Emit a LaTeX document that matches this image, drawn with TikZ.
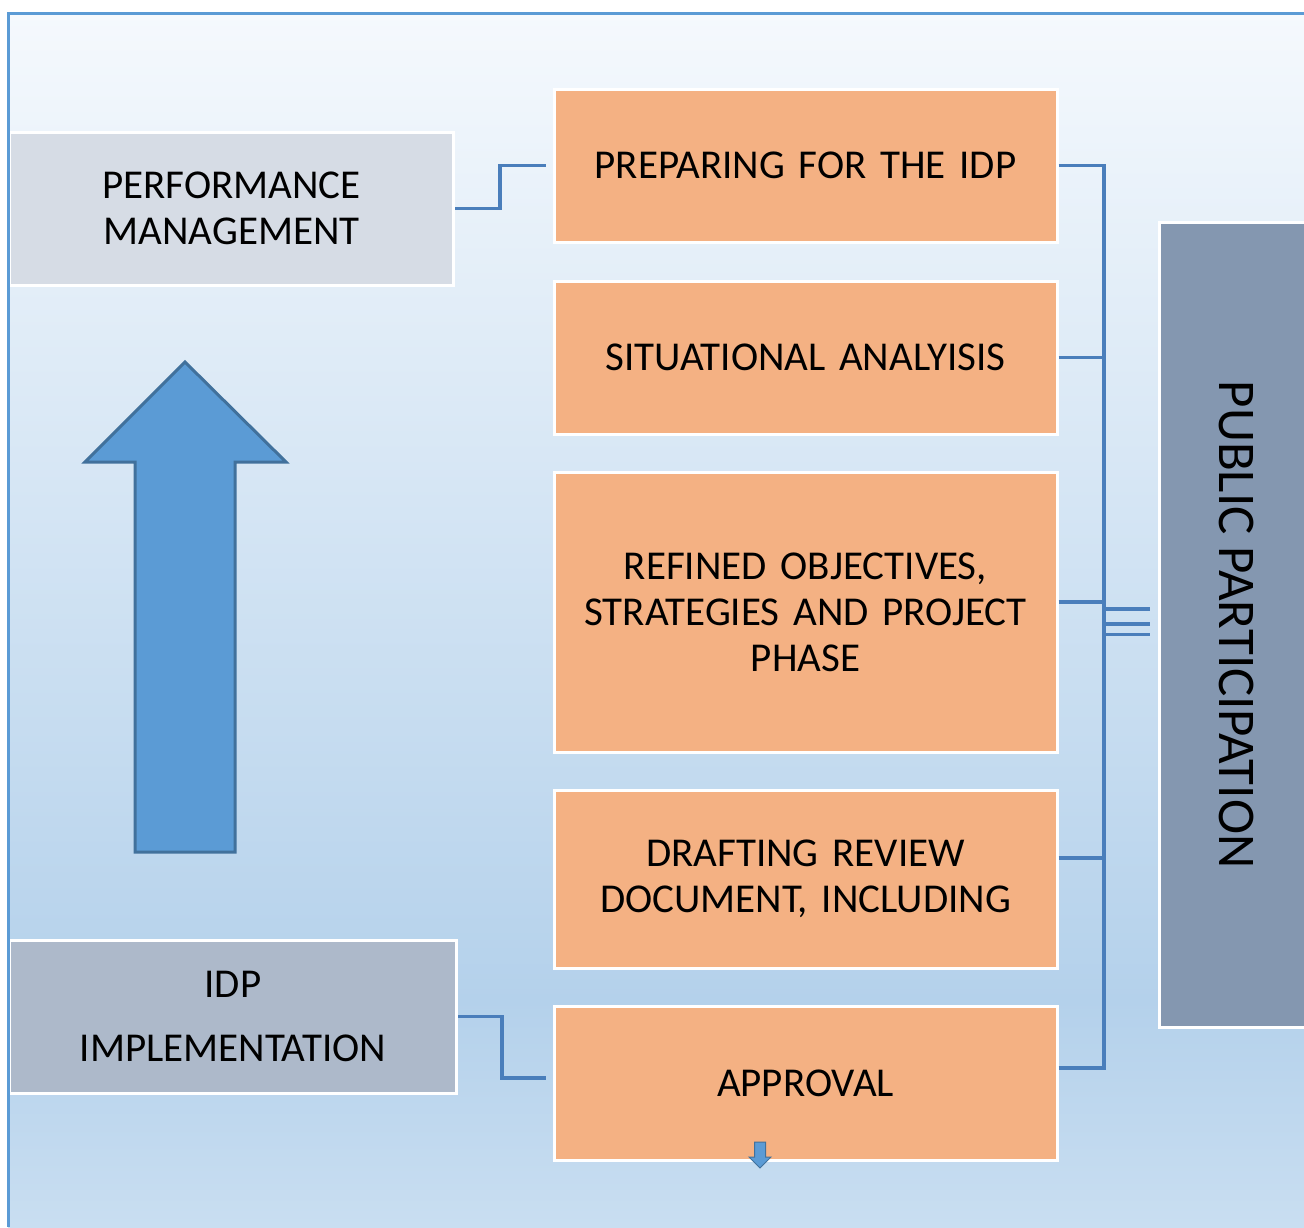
\documentclass[tikz,border=0pt]{standalone}
\usepackage{fontspec}
\setmainfont{Carlito}
\definecolor{bgtop}{HTML}{F5F9FD}
\definecolor{bgmid}{HTML}{B4D1EB}
\definecolor{bgbot}{HTML}{C9DEF1}
\definecolor{framec}{HTML}{5B9BD5}
\definecolor{orangec}{HTML}{F4B183}
\definecolor{perfc}{HTML}{D6DCE5}
\definecolor{implc}{HTML}{ADB9CA}
\definecolor{pubc}{HTML}{8497B0}
\definecolor{connc}{HTML}{4A7EBB}
\definecolor{arrfill}{HTML}{5B9BD5}
\definecolor{arrline}{HTML}{41719C}
\begin{document}
\begin{tikzpicture}[x=1pt,y=-1pt,
  box/.style={draw=white, line width=3pt, align=center, inner sep=0pt,
    font=\fontsize{41}{46}\selectfont, text=black},
  phase/.style={box, fill=orangec, minimum width=503, text width=490},
  conn/.style={draw=connc, line width=3.5pt},
  bigarrow/.style={draw=arrline, fill=arrfill, line width=3pt, line join=miter}]
\useasboundingbox (0,0) rectangle (1304,1227);
% background
\shade[top color=bgtop, bottom color=bgmid] (8,13) rectangle (1304,1001);
\shade[top color=bgmid, bottom color=bgbot] (8,1000) rectangle (1304,1227);
% left boxes
\node[box, fill=perfc, minimum width=444, minimum height=153] (perf) at (231.5,208.5) {PERFORMANCE\\MANAGEMENT};
\node[box, fill=implc, minimum width=447, minimum height=153] (impl) at (233,1016.5) {IDP\\[18pt]IMPLEMENTATION};
% phase boxes
\node[phase, minimum height=153] (prep) at (805.5,165.5) {PREPARING FOR THE IDP};
\node[phase, minimum height=153] (sit) at (805.5,357.5) {SITUATIONAL ANALYISIS};
\node[phase, minimum height=280] (ref) at (805.5,612) {REFINED OBJECTIVES,\\STRATEGIES AND PROJECT\\PHASE};
\node[phase, minimum height=178] (draft) at (805.5,879) {DRAFTING REVIEW\\DOCUMENT, INCLUDING};
\node[phase, minimum height=154] (appr) at (805.5,1083) {APPROVAL};
% public participation
\node[box, fill=pubc, minimum width=805, minimum height=155, rotate=-90,
  font=\fontsize{53}{60}\selectfont] (pub) at (1236.5,624.5) {PUBLIC PARTICIPATION};
% frame
\draw[framec, line width=3pt] (8,1227) -- (8,13) -- (1304,13);
% connectors left
\draw[conn] (perf.east) -- (500,208.5) -- (500,165.5) -- ([xshift=-7pt]prep.west);
\draw[conn] (impl.east) -- (502,1016.5) -- (502,1078) -- ([xshift=-7pt,yshift=5pt]appr.west);
% right bracket
\draw[conn] (prep.east) -- (1104,165.5);
\draw[conn] (sit.east) -- (1104,357.5);
\draw[conn] ([yshift=10pt]ref.east) -- (1104,602);
\draw[conn] ([yshift=21pt]draft.east) -- (1104,858);
\draw[conn] ([yshift=15pt]appr.east) -- (1104,1068);
\draw[conn] (1104,164) -- (1104,1069.5);
\draw[conn] (1104,609) -- ([xshift=-8pt,yshift=15.5pt]pub.south);
\draw[conn] (1104,624) -- ([xshift=-8pt,yshift=0.5pt]pub.south);
\draw[conn] (1104,634.5) -- ([xshift=-8pt,yshift=-10pt]pub.south);
% big up arrow
\draw[bigarrow] (135,852) -- (135,462) -- (85,462) -- (185,362) -- (286,462) -- (235,462) -- (235,852) -- cycle;
% small down arrow
\draw[draw=arrline, fill=arrfill, line width=1pt] (754.5,1142) -- (765.5,1142) -- (765.5,1157) -- (771,1157) -- (760,1168) -- (749,1157) -- (754.5,1157) -- cycle;
\end{tikzpicture}
\end{document}
